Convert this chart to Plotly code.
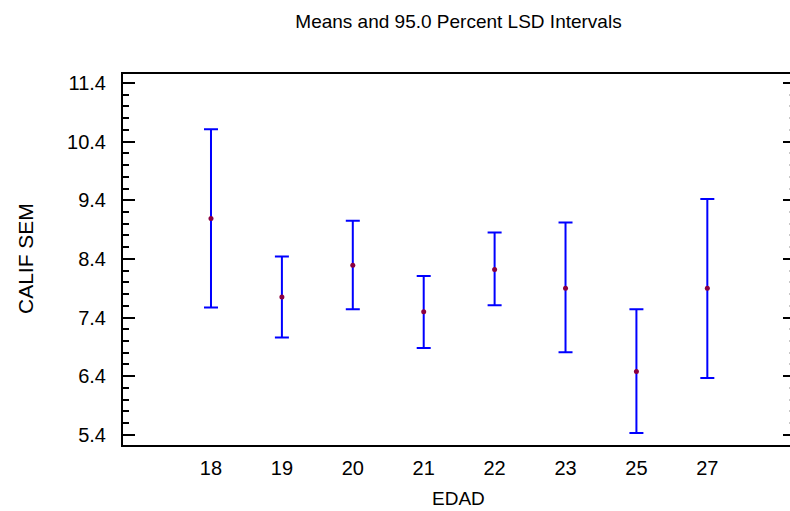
import plotly.graph_objects as go

# Data
categories = ["18", "19", "20", "21", "22", "23", "25", "27"]
means = [9.09, 7.75, 8.29, 7.50, 8.22, 7.90, 6.48, 7.90]
lower = [7.57, 7.06, 7.54, 6.88, 7.61, 6.81, 5.43, 6.37]
upper = [10.61, 8.44, 9.05, 8.11, 8.85, 9.02, 7.54, 9.42]

title_text = "Means and 95.0 Percent LSD Intervals"
x_title = "EDAD"
y_title = "CALIF SEM"

xpos = list(range(len(categories)))
err_plus = [u - m for u, m in zip(upper, means)]
err_minus = [m - l for m, l in zip(means, lower)]

W, H = 790, 511
ML, MR, MT, MB = 123, 0, 74, 66
PW, PH = W - ML - MR, H - MT - MB


def px_x(px):
    return (px - ML) / PW


def px_y(py):
    return (H - MB - py) / PH


fig = go.Figure()
fig.add_trace(go.Scatter(
    x=xpos, y=means, mode="markers",
    marker=dict(color="#8b0040", size=5),
    error_y=dict(type="data", symmetric=False, array=err_plus, arrayminus=err_minus,
                 color="#0000ff", thickness=2, width=7),
    showlegend=False, hoverinfo="skip",
))
# invisible trace for right-side y-axis ticks
fig.add_trace(go.Scatter(x=[xpos[0]], y=[means[0]], yaxis="y2", mode="markers",
                         marker=dict(opacity=0), showlegend=False, hoverinfo="skip"))

font_family = "Liberation Sans, Arial, sans-serif"
yrange = [5.226, 11.554]

fig.update_layout(
    width=W, height=H,
    margin=dict(l=ML, r=MR, t=MT, b=MB, pad=0),
    paper_bgcolor="white", plot_bgcolor="white",
    font=dict(family=font_family, color="#000000"),
    title=dict(text=title_text, x=458.5 / W, xref="container", xanchor="center",
               y=1 - 21 / H, yref="container", yanchor="middle",
               font=dict(size=19, family=font_family, color="#000000")),
    xaxis=dict(
        range=[-1.241, 8.166], tickmode="array", tickvals=xpos, ticktext=categories,
        showgrid=False, zeroline=False, showline=True, linecolor="black", linewidth=2,
        mirror=True, ticks="", tickfont=dict(size=20), ticklabelstandoff=4,
    ),
    yaxis=dict(
        range=yrange, tickmode="linear", tick0=5.4, dtick=1.0, tickformat=".1f",
        showgrid=False, zeroline=False, showline=True, linecolor="black", linewidth=2,
        ticks="inside", ticklen=12, tickwidth=2, tickcolor="black",
        minor=dict(dtick=0.2, tick0=5.4, ticks="inside", ticklen=6, tickwidth=2,
                   tickcolor="black", showgrid=False),
        tickfont=dict(size=20), ticklabelstandoff=11,
    ),
    yaxis2=dict(
        range=yrange, overlaying="y", side="right", anchor="x",
        tickmode="linear", tick0=5.4, dtick=1.0, showticklabels=False,
        showgrid=False, zeroline=False, showline=False,
        ticks="inside", ticklen=7, tickwidth=2, tickcolor="black",
        minor=dict(dtick=0.2, tick0=5.4, ticks="inside", ticklen=1, tickwidth=2,
                   tickcolor="#c8c8c8", showgrid=False),
    ),
    annotations=[
        dict(text=x_title, xref="paper", yref="paper", x=px_x(458.5), y=px_y(498),
             xanchor="center", yanchor="middle", showarrow=False,
             font=dict(size=19, family=font_family, color="#000000")),
        dict(text=y_title, xref="paper", yref="paper", x=px_x(25), y=px_y(258),
             xanchor="center", yanchor="middle", showarrow=False, textangle=-90,
             font=dict(size=21, family=font_family, color="#000000")),
    ],
)

fig.write_html("out.html")
